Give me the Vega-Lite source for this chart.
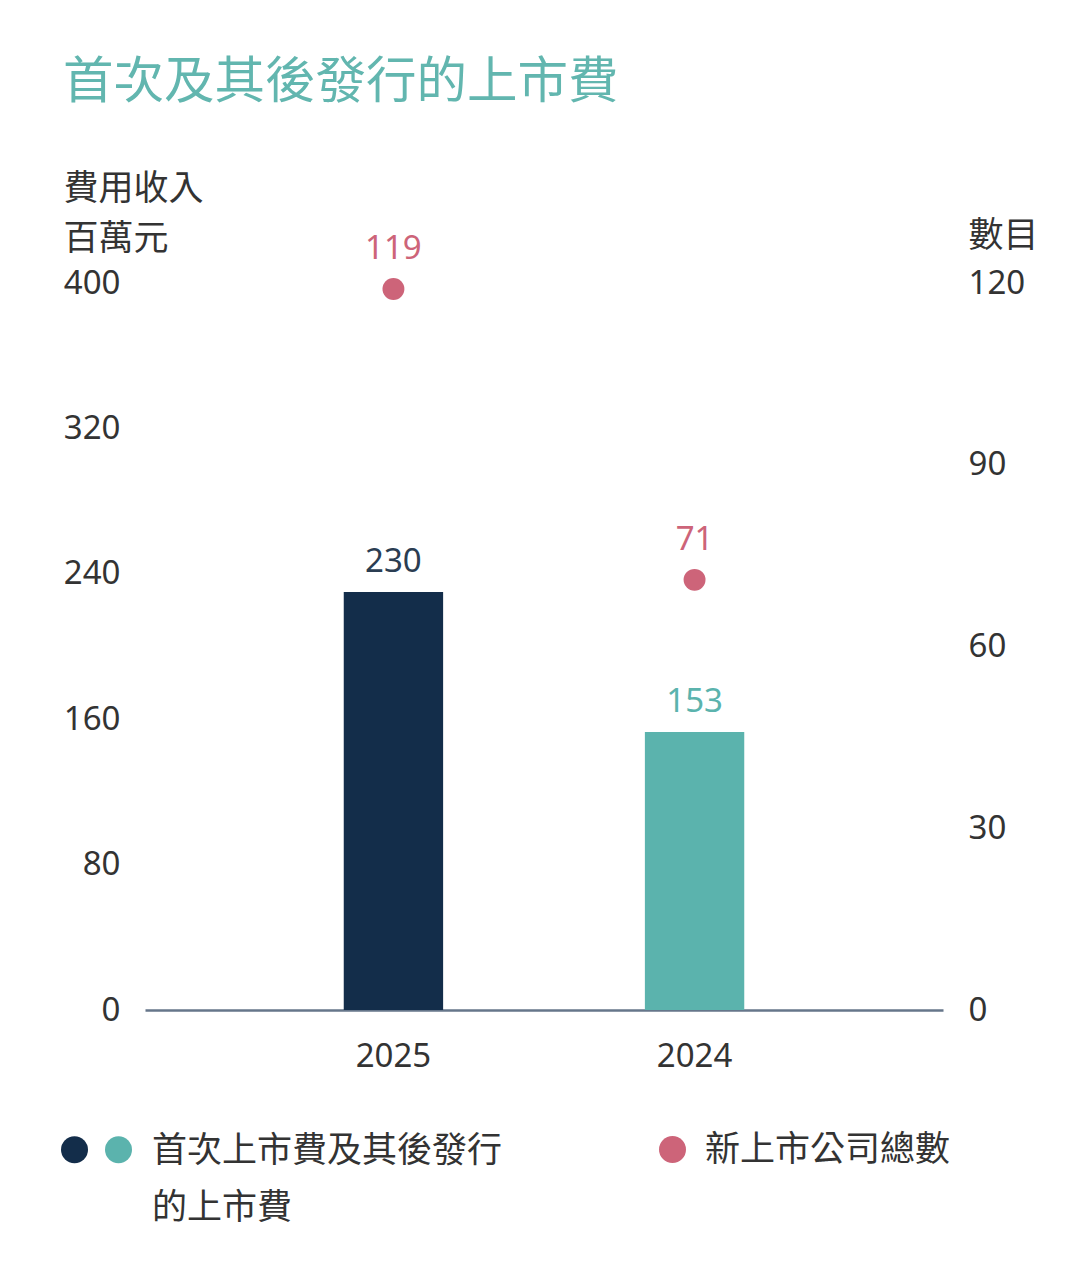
{
  "$schema": "https://vega.github.io/schema/vega-lite/v6.json",
  "width": 798,
  "height": 727,
  "autosize": {"type": "none"},
  "padding": {"left": 145, "top": 283, "right": 137, "bottom": 254},
  "background": "white",
  "config": {
    "font": "Noto Sans, Noto Sans CJK TC",
    "view": {"stroke": null}
  },
  "title": {
    "text": "首次及其後發行的上市費",
    "anchor": "start",
    "frame": "group",
    "dx": -82,
    "offset": 63,
    "color": "#62b6af",
    "fontSize": 50.5,
    "fontWeight": "normal"
  },
  "data": {
    "values": [
      {"year": "2025", "fee": 230, "count": 119},
      {"year": "2024", "fee": 153, "count": 71}
    ]
  },
  "encoding": {
    "x": {
      "field": "year",
      "type": "nominal",
      "sort": ["2025", "2024"],
      "scale": {"paddingInner": 0.67, "paddingOuter": 0.66},
      "axis": {
        "title": null,
        "domain": true,
        "domainColor": "#66768a",
        "domainWidth": 2.5,
        "ticks": false,
        "grid": false,
        "labelAngle": 0,
        "labelFontSize": 33,
        "labelColor": "#333333",
        "labelPadding": 30
      }
    }
  },
  "layer": [
    {
      "encoding": {
        "y": {
          "field": "fee",
          "type": "quantitative",
          "scale": {"domain": [0, 400], "nice": false},
          "axis": {
            "values": [0, 80, 160, 240, 320, 400],
            "domain": false,
            "ticks": false,
            "grid": false,
            "labelFontSize": 33,
            "labelColor": "#333333",
            "labelPadding": 25,
            "title": ["費用收入", "百萬元"],
            "titleAngle": 0,
            "titleAlign": "left",
            "titleBaseline": "top",
            "titleX": -82,
            "titleY": -112,
            "titleFontSize": 35,
            "titleFontWeight": "normal",
            "titleColor": "#333333",
            "titleLineHeight": 50
          }
        }
      },
      "layer": [
        {
          "mark": {"type": "bar"},
          "encoding": {
            "color": {
              "field": "year",
              "type": "nominal",
              "scale": {"domain": ["2025", "2024"], "range": ["#132d4a", "#5bb3ad"]},
              "legend": {
                "orient": "none",
                "legendX": -88,
                "legendY": 849,
                "direction": "horizontal",
                "title": null,
                "padding": 0,
                "symbolType": "circle",
                "symbolSize": 729,
                "symbolStrokeWidth": 0,
                "labelFontSize": 35,
                "labelColor": "#333333",
                "labelOffset": 2,
                "columnPadding": 7,
                "labelBaseline": "alphabetic",
                "labelLimit": 600,
                "labelExpr": "datum.label === '2025' ? ['', ''] : ['首次上市費及其後發行', '的上市費']",
                "encoding": {
                  "labels": {
                    "dy": {"value": 12},
                    "lineHeight": {"value": 57},
                    "dx": {"value": {"expr": "datum.value === '2024' ? 14 : 0"}}
                  }
                }
              }
            }
          }
        },
        {
          "mark": {"type": "text", "dy": -20, "fontSize": 33, "baseline": "alphabetic"},
          "encoding": {
            "text": {"field": "fee", "type": "quantitative"},
            "color": {
              "condition": {"test": "datum.year === '2025'", "value": "#2b3d52"},
              "value": "#5bb3ad"
            }
          }
        }
      ]
    },
    {
      "encoding": {
        "y": {
          "field": "count",
          "type": "quantitative",
          "scale": {"domain": [0, 120], "nice": false},
          "axis": {
            "orient": "right",
            "values": [0, 30, 60, 90, 120],
            "domain": false,
            "ticks": false,
            "grid": false,
            "labelFontSize": 33,
            "labelColor": "#333333",
            "labelPadding": 25,
            "title": "數目",
            "titleAngle": 0,
            "titleAlign": "left",
            "titleBaseline": "top",
            "titleX": 25,
            "titleY": -65,
            "titleFontSize": 35,
            "titleFontWeight": "normal",
            "titleColor": "#333333"
          }
        }
      },
      "layer": [
        {
          "mark": {"type": "point", "filled": true, "size": 480, "opacity": 1},
          "encoding": {
            "fill": {
              "datum": "新上市公司總數",
              "type": "nominal",
              "scale": {"range": ["#cd6479"]},
              "legend": {
                "orient": "none",
                "legendX": 510,
                "legendY": 849,
                "title": null,
                "padding": 0,
                "symbolType": "circle",
                "symbolSize": 729,
                "symbolStrokeWidth": 0,
                "labelFontSize": 35,
                "labelColor": "#333333",
                "labelOffset": 15,
                "labelLimit": 600,
                "labelBaseline": "middle"
              }
            }
          }
        },
        {
          "mark": {"type": "text", "dy": -30, "fontSize": 33, "baseline": "alphabetic", "color": "#cd6479"},
          "encoding": {
            "text": {"field": "count", "type": "quantitative"}
          }
        }
      ]
    }
  ],
  "resolve": {"scale": {"y": "independent"}}
}
